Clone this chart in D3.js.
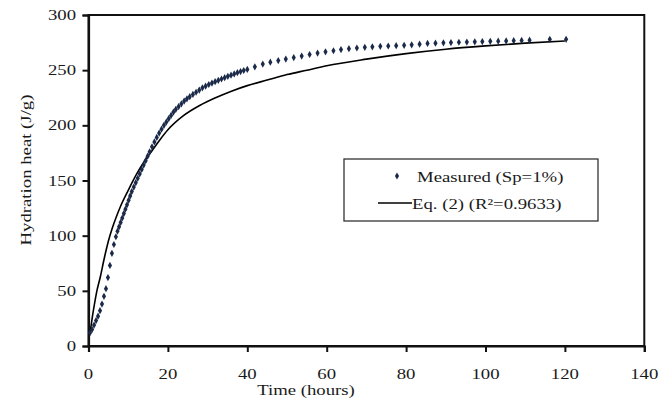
<!DOCTYPE html>
<html>
<head>
<meta charset="utf-8">
<script src="https://cdn.jsdelivr.net/npm/d3@7"></script>
<style>
  html, body { margin: 0; padding: 0; background: #fff; }
  svg { display: block; }
  text { font-family: "Liberation Serif", "Times New Roman", serif; fill: #1a1a1a; }
</style>
</head>
<body>
<svg id="chart" width="659" height="400"></svg>
<script>
// Measured hydration heat (J/g) against time (hours)
const measuredTime = [0.4,0.9,1.4,1.9,2.4,2.9,3.4,3.9,4.4,4.9,5.4,5.9,6.4,6.9,7.3,7.7,8.1,8.5,8.9,9.3,9.7,10.1,10.5,10.9,11.4,11.9,12.4,12.9,13.4,13.9,14.4,14.9,15.4,16.0,16.6,17.2,17.8,18.4,19.0,19.6,20.2,20.8,21.4,22.0,22.7,23.4,24.1,24.8,25.5,26.3,27.1,27.9,28.7,29.5,30.3,31.1,31.9,32.7,33.5,34.3,35.1,35.9,36.7,37.5,38.3,39.1,40.0,41.9,43.9,45.8,47.8,49.7,51.7,53.7,55.7,57.7,59.7,61.7,63.6,65.6,67.6,69.6,71.5,73.5,75.5,77.5,79.5,81.4,83.4,85.4,87.4,89.4,91.3,93.3,95.3,97.3,99.2,101.2,103.2,105.2,107.1,109.1,111.1,116.2,120.3];
const measuredHeat = [12,15,19,23,27,32,38,45,52,62,73,84,92,99,104,108,112,116,120,124,128,132,136,140,144,148,152,156,160,164,168,172,176,180.5,185,189,193,196.5,200,203,206,209,212,214.5,217,219.5,222,224,226,228,230,232,234,235.5,237,238.3,239.6,240.8,242,243.2,244.4,245.5,246.6,247.7,248.7,249.7,250.7,253,255.5,257.2,258.7,260.1,261.4,262.8,264.2,265.5,266.6,267.6,268.7,269.5,270.1,270.7,271.2,271.6,271.9,272.2,272.5,273.0,273.6,274.2,274.5,274.8,275.0,275.3,275.5,275.7,275.9,276.1,276.3,276.5,276.7,277.0,277.2,278.0,278.0];

// Eq. (2) fitted curve
const fitTime = [0.4,1,1.5,2,3,4,5,6,7,8,10,12,14,16,18,20,24,28,32,36,40,45,50,55,60,70,80,90,100,110,120];
const fitHeat = [12,27,38,48,63,80,95,107,117,126,141,155,167,177,187,196,209,218,225,231,236,241,246,250,254,260,265,269,272,274.5,276.5];

const xTicks = [0,20,40,60,80,100,120,140];
const yTicks = [0,50,100,150,200,250,300];

const legendLabels = ["Measured (Sp=1%)", "Eq. (2) (R\u00B2=0.9633)"];
const xTitle = "Time (hours)";
const yTitle = "Hydration heat (J/g)";

const measured = measuredTime.map((t, i) => ({ t, h: measuredHeat[i] }));
const fitted = fitTime.map((t, i) => ({ t, h: fitHeat[i] }));

const svg = d3.select("#chart");
const plot = { left: 88.5, right: 644.3, top: 15, bottom: 346 };

const x = d3.scaleLinear().domain([0, 140]).range([plot.left, plot.right]);
const y = d3.scaleLinear().domain([0, 300]).range([plot.bottom, plot.top]);

const fontSize = 15;
const stretch = 1.25;

// Plot frame
svg.append("rect")
  .attr("x", plot.left).attr("y", plot.top)
  .attr("width", plot.right - plot.left).attr("height", plot.bottom - plot.top)
  .attr("fill", "none").attr("stroke", "#111").attr("stroke-width", 2);

// Axes
const yAxis = svg.append("g")
  .attr("transform", `translate(${plot.left},0)`)
  .call(d3.axisLeft(y).tickValues(yTicks).tickSize(6).tickFormat(""));
const xAxis = svg.append("g")
  .attr("transform", `translate(0,${plot.bottom})`)
  .call(d3.axisBottom(x).tickValues(xTicks).tickSize(6).tickFormat(""));
[xAxis, yAxis].forEach(g => {
  g.select(".domain").attr("stroke", "#111").attr("stroke-width", 2.2);
  g.selectAll(".tick line").attr("stroke", "#111").attr("stroke-width", 2);
});

// Tick labels (wide serif face)
svg.append("g").selectAll("text")
  .data(yTicks).join("text")
  .attr("transform", d => `translate(76,${y(d) + 5}) scale(${stretch},1)`)
  .attr("text-anchor", "end")
  .attr("font-size", fontSize)
  .text(d => d);

svg.append("g").selectAll("text")
  .data(xTicks).join("text")
  .attr("transform", d => `translate(${x(d)},379) scale(${stretch},1)`)
  .attr("text-anchor", "middle")
  .attr("font-size", fontSize)
  .text(d => d);

// Axis titles
svg.append("text")
  .attr("transform", `translate(306,395) scale(${stretch},1)`)
  .attr("text-anchor", "middle")
  .attr("font-size", fontSize)
  .text(xTitle);

svg.append("text")
  .attr("transform", `translate(31,170) rotate(-90) scale(${stretch},1)`)
  .attr("text-anchor", "middle")
  .attr("font-size", fontSize)
  .text(yTitle);

// Fitted curve
const line = d3.line()
  .x(d => x(d.t)).y(d => y(d.h))
  .curve(d3.curveMonotoneX);
svg.append("path")
  .datum(fitted)
  .attr("d", line)
  .attr("fill", "none")
  .attr("stroke", "#000")
  .attr("stroke-width", 1.6);

// Measured points as small diamonds
const diamond = d3.symbol().type(d3.symbolDiamond).size(15);
const markColor = "#1b2a48";
svg.append("g").selectAll("path")
  .data(measured).join("path")
  .attr("transform", d => `translate(${x(d.t)},${y(d.h)})`)
  .attr("d", diamond)
  .attr("fill", markColor);

// Legend
const legend = svg.append("g");
legend.append("rect")
  .attr("x", 344).attr("y", 159).attr("width", 254).attr("height", 62)
  .attr("fill", "#fff").attr("stroke", "#333").attr("stroke-width", 1.3);
legend.append("path")
  .attr("transform", "translate(397,176)")
  .attr("d", diamond)
  .attr("fill", markColor);
legend.append("text")
  .attr("transform", `translate(417,181.5) scale(${stretch},1)`)
  .attr("font-size", fontSize)
  .text(legendLabels[0]);
legend.append("line")
  .attr("x1", 378).attr("x2", 412).attr("y1", 203).attr("y2", 203)
  .attr("stroke", "#000").attr("stroke-width", 1.6);
legend.append("text")
  .attr("transform", `translate(412,208.5) scale(${stretch},1)`)
  .attr("font-size", fontSize)
  .text(legendLabels[1]);
</script>
</body>
</html>
